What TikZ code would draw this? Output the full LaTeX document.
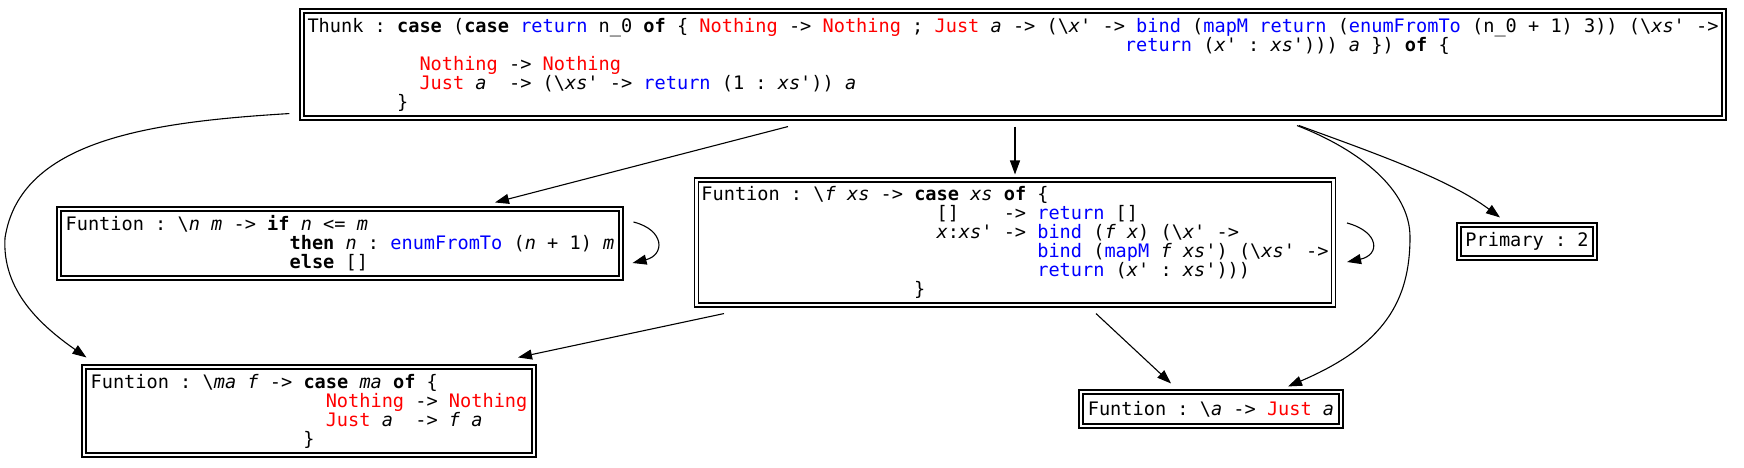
\documentclass[tikz,border=0pt]{standalone}
\usepackage{fontspec}
\setmonofont{DejaVu Sans Mono}[ItalicFont={DejaVu Sans Mono Oblique},BoldFont={DejaVu Sans Mono Bold},BoldItalicFont={DejaVu Sans Mono Bold Oblique}]
\usetikzlibrary{arrows.meta}
\newcommand\kw[1]{\textbf{#1}}
\newcommand\bl[1]{\textcolor{blue}{#1}}
\newcommand\rd[1]{\textcolor{red}{#1}}
\newcommand\vr[1]{\textit{#1}}
\newcommand\bksl{\textbackslash}
\newcommand\ind[1]{\hspace*{#1\dimexpr\fontcharwd\font`\0\relax}}
\tikzset{
  box/.style={draw, line width=0.55pt, double, double distance=1.45pt, inner sep=0pt, align=left,
    font=\ttfamily\fontsize{9.3pt}{9.5pt}\selectfont\frenchspacing},
  edge/.style={line width=0.55pt, -{Triangle[length=7pt,width=5pt]}},
}
\begin{document}
\begin{tikzpicture}[x=0.5pt,y=-0.5pt]
\useasboundingbox (0,0) rectangle (1744,467);
\fill[white] (0,0) rectangle (1744,467);

\node[box, minimum width=711pt, minimum height=53.5pt] (thunk) at (1013,64.5) {%
Thunk : \kw{case} (\kw{case} \bl{return} n\_0 \kw{of} \{ \rd{Nothing} -> \rd{Nothing} ; \rd{Just} \vr{a} -> (\bksl\vr{x'} -> \bl{bind} (\bl{mapM} \bl{return} (\bl{enumFromTo} (n\_0 + 1) 3)) (\bksl\vr{xs'} ->\\
\ind{73}\bl{return} (\vr{x'} : \vr{xs'}))) \vr{a} \}) \kw{of} \{\\
\ind{10}\rd{Nothing} -> \rd{Nothing}\\
\ind{10}\rd{Just} \vr{a}~ -> (\bksl\vr{xs'} -> \bl{return} (1 : \vr{xs'})) \vr{a}\\
\ind{8}\}};

\node[box, minimum width=281pt, minimum height=34.5pt] (A) at (340,243.5) {%
Funtion : \bksl\vr{n} \vr{m} -> \kw{if} \vr{n} <= \vr{m}\\
\ind{20}\kw{then} \vr{n} : \bl{enumFromTo} (\vr{n} + 1) \vr{m}\\
\ind{20}\kw{else} []};

\node[box, minimum width=318.5pt, minimum height=62.5pt] (B) at (1015,242.5) {%
Funtion : \bksl\vr{f} \vr{xs} -> \kw{case} \vr{xs} \kw{of} \{\\
\ind{21}[]\ind{4}-> \bl{return} []\\
\ind{21}\vr{x}:\vr{xs'} -> \bl{bind} (\vr{f} \vr{x}) (\bksl\vr{x'} ->\\
\ind{30}\bl{bind} (\bl{mapM} \vr{f} \vr{xs'}) (\bksl\vr{xs'} ->\\
\ind{30}\bl{return} (\vr{x'} : \vr{xs'})))\\
\ind{19}\}};

\node[box, minimum width=68pt, minimum height=16.5pt] (P) at (1527,241.5) {Primary : 2};

\node[box, minimum width=225pt, minimum height=44pt] (C) at (309,411) {%
Funtion : \bksl\vr{ma} \vr{f} -> \kw{case} \vr{ma} \kw{of} \{\\
\ind{21}\rd{Nothing} -> \rd{Nothing}\\
\ind{21}\rd{Just} \vr{a}~ -> \vr{f} \vr{a}\\
\ind{19}\}};

\node[box, minimum width=130pt, minimum height=17pt] (D) at (1211,409) {%
Funtion : \bksl\vr{a} -> \rd{Just} \vr{a}};

\coordinate (k1) at (5,238);
\coordinate (k2) at (1410,237);

\draw[edge] ([shift={(-12,-5)}]thunk.south west) .. controls (150,122) and (20,140) .. (k1)
  .. controls (2,290) and (40,325) .. ([shift={(3,-9)}]C.north west);
\draw[edge] ([shift={(-225,8)}]thunk.south) -- ([shift={(155,-6)}]A.north);
\draw[edge] ([shift={(2,8)}]thunk.south) -- ([shift={(0,-5)}]B.north);
\draw[edge] ([shift={(284,7)}]thunk.south) .. controls (1360,150) and (1410,190) .. (k2)
  .. controls (1410,300) and (1385,345) .. ([shift={(77,-5)}]D.north);
\draw[edge] ([shift={(286,7)}]thunk.south) .. controls (1380,155) and (1450,180) .. ([shift={(-27,-7)}]P.north);
\draw[edge] ([shift={(12,-21.5)}]A.east) .. controls (665,230) and (665,255) .. ([shift={(11,19.5)}]A.east);
\draw[edge] ([shift={(13,-19.5)}]B.east) .. controls (1380,232) and (1380,255) .. ([shift={(13,19.5)}]B.east);
\draw[edge] ([shift={(-291,8)}]B.south) -- ([shift={(209,-9)}]C.north);
\draw[edge] ([shift={(81,8)}]B.south) -- ([shift={(-40,-8)}]D.north);
\end{tikzpicture}
\end{document}
